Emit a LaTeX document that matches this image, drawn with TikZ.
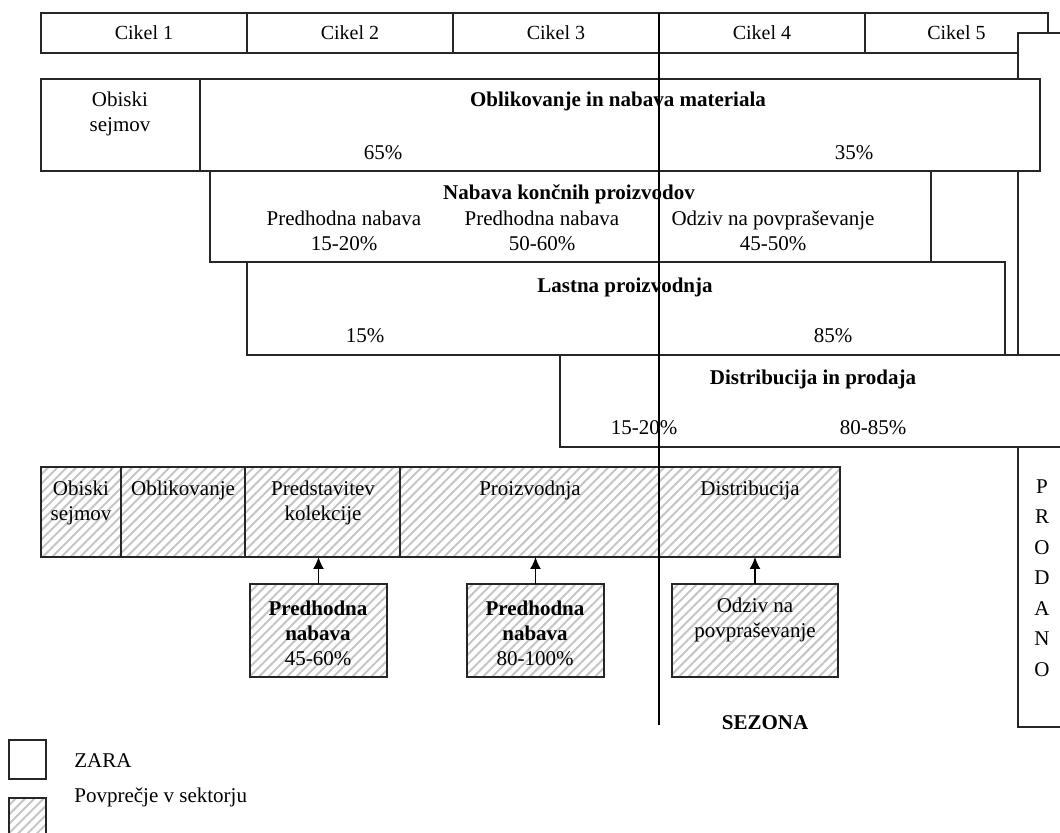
\documentclass[tikz,border=0pt]{standalone}
\usepackage{fontspec}
\setmainfont{Liberation Serif}
\usepackage{tikz}
\usetikzlibrary{patterns.meta,arrows.meta}

\begin{document}
\begin{tikzpicture}[x=0.5pt,y=-0.5pt,
    box/.style={draw=black!85,line width=0.6pt,fill=white,anchor=north west,
      inner sep=0pt,outer sep=0pt},
    hatch/.style={draw=black!85,line width=0.6pt,anchor=north west,
      inner sep=0pt,outer sep=0pt,
      pattern={Lines[angle=45,distance=3.3pt,line width=1pt]},
      pattern color=gray!45},
    lbl/.style={inner sep=0pt,align=center,font=\fontsize{10.5}{12.5}\selectfont},
    ttl/.style={inner sep=0pt,align=center,font=\fontsize{10.5}{12.5}\selectfont\bfseries}]
        \useasboundingbox (0,0) rectangle (1060,833);

        % cikli
        \node[box,minimum width=103pt,minimum height=20pt,font=\fontsize{10}{12}\selectfont] (C1) at (41,13) {Cikel 1};
        \node[box,minimum width=103pt,minimum height=20pt,font=\fontsize{10}{12}\selectfont] (C2) at (247,13) {Cikel 2};
        \node[box,minimum width=103pt,minimum height=20pt,font=\fontsize{10}{12}\selectfont] (C3) at (453,13) {Cikel 3};
        \node[box,minimum width=103pt,minimum height=20pt,font=\fontsize{10}{12}\selectfont] (C4) at (659,13) {Cikel 4};
        \node[box,minimum width=91.5pt,minimum height=20pt,font=\fontsize{10}{12}\selectfont] (C5) at (865,13) {Cikel 5};

        \node[box,minimum width=40pt,minimum height=347pt] (PR) at (1018,33) {};
        \node[lbl,font=\fontsize{10.5}{15.25}\selectfont] (PRt) at (1042,578) {P\\R\\O\\D\\A\\N\\O};

        % ZARA
        \node[box,minimum width=79.5pt,minimum height=46pt] (OS) at (41,79) {};
        \node[box,minimum width=420pt,minimum height=46pt] (OB) at (200,79) {};
        \node[lbl] (OSt) at (120,114) {Obiski\\sejmov};
        \node[ttl] (OBt) at (618,101) {Oblikovanje in nabava materiala};
        \node[lbl] (OB1) at (383,153) {65\%};
        \node[lbl] (OB2) at (854,153) {35\%};

        \node[box,minimum width=360.5pt,minimum height=45.5pt] (NK) at (210,171) {};
        \node[ttl] (NKt) at (569,194) {Nabava končnih proizvodov};
        \node[lbl] (NK1) at (344,231) {Predhodna nabava\\15-20\%};
        \node[lbl] (NK2) at (542,231) {Predhodna nabava\\50-60\%};
        \node[lbl] (NK3) at (773,231) {Odziv na povpraševanje\\45-50\%};

        \node[box,minimum width=379pt,minimum height=46.5pt] (LP) at (247,262) {};
        \node[ttl] (LPt) at (625,287) {Lastna proizvodnja};
        \node[lbl] (LP1) at (365,336) {15\%};
        \node[lbl] (LP2) at (833,336) {85\%};

        \node[box,minimum width=260pt,minimum height=46pt] (DP) at (560,355) {};
        \node[ttl] (DPt) at (813,379) {Distribucija in prodaja};
        \node[lbl] (DP1) at (644,428) {15-20\%};
        \node[lbl] (DP2) at (873,428) {80-85\%};

        % sektor
        \node[hatch,minimum width=40pt,minimum height=45pt] (SO) at (41,467) {};
        \node[hatch,minimum width=62pt,minimum height=45pt] (SB) at (121,467) {};
        \node[hatch,minimum width=77.5pt,minimum height=45pt] (SK) at (245,467) {};
        \node[hatch,minimum width=129.5pt,minimum height=45pt] (SP) at (400,467) {};
        \node[hatch,minimum width=90.5pt,minimum height=45pt] (SD) at (659,467) {};
        \node[lbl] (SOt) at (81,503) {Obiski\\sejmov};
        \node[lbl] (SBt) at (183,490) {Oblikovanje};
        \node[lbl] (SKt) at (323,503) {Predstavitev\\kolekcije};
        \node[lbl] (SPt) at (530,490) {Proizvodnja};
        \node[lbl] (SDt) at (750,490) {Distribucija};

        \node[hatch,minimum width=68.5pt,minimum height=46.5pt] (N1) at (250,584) {};
        \node[hatch,minimum width=68.5pt,minimum height=46.5pt] (N2) at (467,584) {};
        \node[hatch,minimum width=83pt,minimum height=46.5pt] (N3) at (672,584) {};
        \node[lbl] (N1t) at (318,633) {\textbf{Predhodna}\\\textbf{nabava}\\45-60\%};
        \node[lbl] (N2t) at (535,633) {\textbf{Predhodna}\\\textbf{nabava}\\80-100\%};
        \node[lbl] (N3t) at (755,620) {Odziv na\\povpraševanje};

        \draw[-{Latex[length=6pt,width=5.5pt]},line width=0.7pt] (N1.north) -- (N1.north |- SK.south);
        \draw[-{Latex[length=6pt,width=5.5pt]},line width=0.7pt] (N2.north) -- (N2.north |- SP.south);
        \draw[-{Latex[length=6pt,width=5.5pt]},line width=0.7pt] (N3.north) -- (N3.north |- SD.south);

        % sezona
        \coordinate (Stop) at (659,13);
        \coordinate (Sbot) at (659,725);
        \draw[line width=0.6pt] (Stop) -- (Sbot);
        \node[ttl] (SEZ) at (765,723) {SEZONA};

        % legenda
        \node[box,minimum width=18.5pt,minimum height=19.5pt] (LZ) at (9,740) {};
        \node[hatch,minimum width=18.5pt,minimum height=20pt] (LS) at (9,798) {};
        \node[lbl,anchor=west] (LZt) at (74,761) {ZARA};
        \node[lbl,anchor=west] (LSt) at (74,797) {Povprečje v sektorju};
\end{tikzpicture}
\end{document}
